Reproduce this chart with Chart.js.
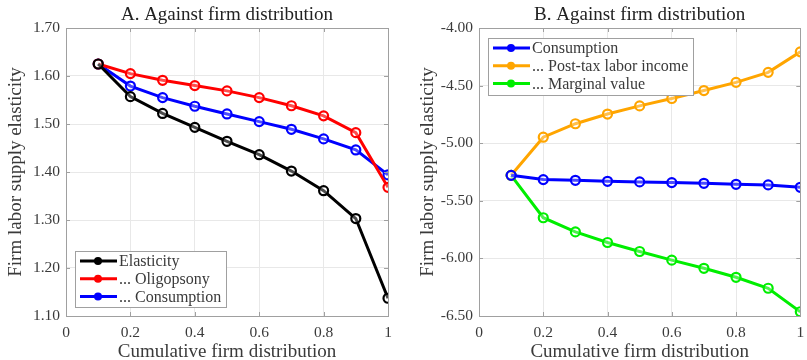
<!DOCTYPE html>
<html>
<head>
<meta charset="utf-8">
<script src="https://cdn.jsdelivr.net/npm/chart.js@4/dist/chart.umd.min.js"></script>
<style>
  html, body { margin: 0; padding: 0; background: #ffffff; }
  #wrapA { position: absolute; left: 0; top: 0; width: 400px; height: 360px; }
  #wrapB { position: absolute; left: 400px; top: 0; width: 407px; height: 360px; }
</style>
</head>
<body>
<div id="wrapA"><canvas id="chartA" width="400" height="360"></canvas></div>
<div id="wrapB"><canvas id="chartB" width="407" height="360"></canvas></div>
<script>
// ---- Data ----
const firmDistribution = [0.1, 0.2, 0.3, 0.4, 0.5, 0.6, 0.7, 0.8, 0.9, 1.0];

// Panel A
const elasticityA   = [1.625, 1.557, 1.522, 1.493, 1.464, 1.436, 1.402, 1.361, 1.303, 1.137];
const oligopsonyA   = [1.625, 1.605, 1.591, 1.580, 1.569, 1.555, 1.538, 1.517, 1.482, 1.368];
const consumptionA  = [1.625, 1.579, 1.555, 1.537, 1.521, 1.505, 1.489, 1.469, 1.446, 1.394];

// Panel B
const consumptionB  = [-5.279, -5.316, -5.322, -5.331, -5.336, -5.342, -5.348, -5.357, -5.362, -5.383];
const postTaxIncome = [-5.279, -4.948, -4.831, -4.747, -4.676, -4.612, -4.543, -4.472, -4.385, -4.207];
const marginalValue = [-5.279, -5.647, -5.770, -5.862, -5.940, -6.015, -6.086, -6.164, -6.259, -6.463];

const labelsA = ['Elasticity', '... Oligopsony', '... Consumption'];
const labelsB = ['Consumption', '... Post-tax labor income', '... Marginal value'];
const titleA = 'A. Against firm distribution';
const titleB = 'B. Against firm distribution';
const xTitle = 'Cumulative firm distribution';
const yTitle = 'Firm labor supply elasticity';

// ---- Styles ----
const FONT = '"Liberation Serif", "DejaVu Serif", serif';
const TEXT = '#3a3a3a';
const BOX = '#a0a0a0';
const GRID = '#e8e8e8';

function toPoints(ys) { return firmDistribution.map((x, i) => ({ x: x, y: ys[i] })); }

function ds(label, ys, color) {
  return {
    label: label,
    data: toPoints(ys),
    borderColor: color,
    backgroundColor: 'rgba(255,255,255,0)',
    borderWidth: 3,
    pointRadius: 4.5,
    pointBorderWidth: 2.2,
    pointBorderColor: color,
    pointBackgroundColor: 'rgba(255,255,255,0.3)',
    tension: 0,
    fill: false
  };
}

// Box + inner tick marks (MATLAB style)
const boxPlugin = {
  id: 'boxPlugin',
  afterDatasetsDraw(chart) {
    const { ctx, chartArea: a, scales } = chart;
    ctx.save();
    ctx.strokeStyle = BOX;
    ctx.lineWidth = 1;
    ctx.strokeRect(Math.round(a.left) + 0.5, Math.round(a.top) + 0.5,
                   Math.round(a.right - a.left), Math.round(a.bottom - a.top));
    const tl = 4;
    ctx.beginPath();
    scales.x.ticks.forEach(t => {
      const px = Math.round(scales.x.getPixelForValue(t.value)) + 0.5;
      ctx.moveTo(px, a.bottom); ctx.lineTo(px, a.bottom - tl);
      ctx.moveTo(px, a.top); ctx.lineTo(px, a.top + tl);
    });
    scales.y.ticks.forEach(t => {
      const py = Math.round(scales.y.getPixelForValue(t.value)) + 0.5;
      ctx.moveTo(a.left, py); ctx.lineTo(a.left + tl, py);
      ctx.moveTo(a.right, py); ctx.lineTo(a.right - tl, py);
    });
    ctx.stroke();
    ctx.restore();
  }
};

// Legend drawn inside the plot area
function makeLegendPlugin(box) {
  return {
    id: 'innerLegend',
    afterDraw(chart) {
      const { ctx } = chart;
      ctx.save();
      ctx.fillStyle = '#ffffff';
      ctx.fillRect(box.x, box.y, box.w, box.h);
      ctx.strokeStyle = BOX;
      ctx.lineWidth = 1;
      ctx.strokeRect(box.x + 0.5, box.y + 0.5, box.w, box.h);
      ctx.font = '16px ' + FONT;
      ctx.textBaseline = 'middle';
      ctx.textAlign = 'left';
      chart.data.datasets.forEach((d, i) => {
        const y = box.y + box.first + i * box.step;
        ctx.strokeStyle = d.borderColor;
        ctx.lineWidth = 3;
        ctx.beginPath();
        ctx.moveTo(box.x + 5, y);
        ctx.lineTo(box.x + 42, y);
        ctx.stroke();
        ctx.beginPath();
        ctx.arc(box.x + 23, y, 4, 0, Math.PI * 2);
        ctx.fillStyle = d.borderColor;
        ctx.fill();
        ctx.fillStyle = TEXT;
        ctx.fillText(d.label, box.x + 44, y + 1);
      });
      ctx.restore();
    }
  };
}

function makeOptions(cfg) {
  return {
    responsive: false,
    animation: false,
    layout: { padding: { left: 0, right: cfg.padRight, top: 0, bottom: 0 } },
    plugins: {
      legend: { display: false },
      tooltip: { enabled: false },
      title: {
        display: true,
        text: cfg.title,
        fullSize: false,
        color: '#222222',
        font: { family: FONT, size: 19, weight: 'normal', lineHeight: 1.2 },
        padding: { top: 3.8, bottom: 1.4 }
      }
    },
    scales: {
      x: {
        type: 'linear',
        min: 0, max: 1,
        afterFit(s) { s.height = 44; s.paddingLeft = 0; s.paddingRight = 0; },
        ticks: {
          stepSize: 0.2,
          padding: 8,
          color: TEXT,
          font: { family: FONT, size: 15.5 },
          maxRotation: 0,
          callback: v => String(Math.round(v * 10) / 10)
        },
        grid: { color: GRID, drawTicks: false, lineWidth: 1 },
        border: { display: false },
        title: {
          display: true,
          text: xTitle,
          color: TEXT,
          font: { family: FONT, size: 19, lineHeight: 0.8 },
          padding: { top: 0, bottom: 0 }
        }
      },
      y: {
        type: 'linear',
        min: cfg.ymin, max: cfg.ymax,
        afterFit(s) { s.width = cfg.yWidth; s.paddingTop = 0; s.paddingBottom = 0; },
        ticks: {
          stepSize: cfg.ystep,
          padding: 6,
          color: TEXT,
          font: { family: FONT, size: 15.5 },
          callback: v => v.toFixed(2)
        },
        grid: { color: GRID, drawTicks: false, lineWidth: 1 },
        border: { display: false },
        title: {
          display: true,
          text: yTitle,
          color: TEXT,
          font: { family: FONT, size: 19, lineHeight: 0.8 },
          padding: { top: cfg.yTitlePad, bottom: 0 }
        }
      }
    }
  };
}

new Chart(document.getElementById('chartA'), {
  type: 'line',
  data: {
    datasets: [
      ds(labelsA[0], elasticityA, '#000000'),
      ds(labelsA[1], oligopsonyA, '#ff0000'),
      ds(labelsA[2], consumptionA, '#0000ff')
    ]
  },
  options: makeOptions({ title: titleA, padRight: 12, yWidth: 66, ymin: 1.1, ymax: 1.7, ystep: 0.1, yTitlePad: 8.4 }),
  plugins: [boxPlugin, makeLegendPlugin({ x: 75, y: 251, w: 151, h: 56, first: 10, step: 17.7 })]
});

new Chart(document.getElementById('chartB'), {
  type: 'line',
  data: {
    datasets: [
      ds(labelsB[0], consumptionB, '#0000ff'),
      ds(labelsB[1], postTaxIncome, '#ffa500'),
      ds(labelsB[2], marginalValue, '#00ee00')
    ]
  },
  options: makeOptions({ title: titleB, padRight: 5, yWidth: 79, ymin: -6.5, ymax: -4.0, ystep: 0.5, yTitlePad: 20 }),
  plugins: [boxPlugin, makeLegendPlugin({ x: 88, y: 38, w: 205, h: 57, first: 10, step: 17.8 })]
});
</script>
</body>
</html>
